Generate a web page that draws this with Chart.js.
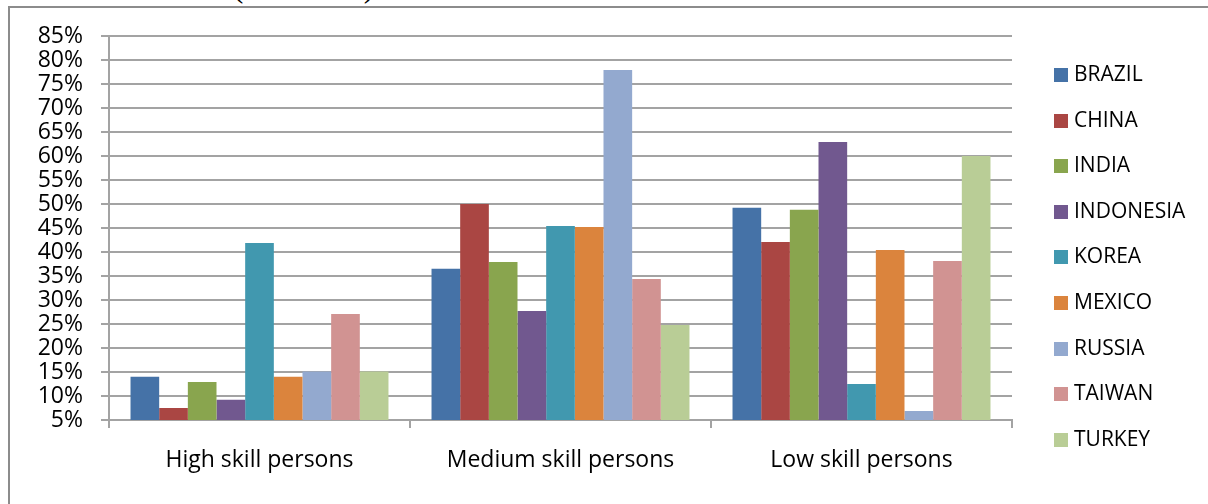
<!DOCTYPE html>
<html>
<head>
<meta charset="utf-8">
<script src="https://cdn.jsdelivr.net/npm/chart.js"></script>
<style>
  body { margin: 0; background: #fff; width: 1208px; height: 504px; overflow: hidden; position: relative; }
  #caption { position: absolute; left: 4px; top: -28px; font: 31px/30px "Liberation Serif", serif; color: #000; white-space: nowrap; }
  #frame { position: absolute; left: 8px; top: 6px; width: 1300px; height: 600px; border: 2px solid #8c8c8c; }
  #chart { position: absolute; left: 0; top: 0; }
  #legend { position: absolute; left: 1054px; top: 0; font: 21px "Open Sans", sans-serif; color: #000; }
  #legend div { position: absolute; white-space: nowrap; height: 24px; line-height: 24px; }
  #legend span { display: inline-block; width: 14px; height: 14px; margin-right: 6px; vertical-align: -1px; }
</style>
</head>
<body>
<div id="caption">selected countries (hard-total)</div>
<div id="frame"></div>
<canvas id="chart" width="1208" height="504"></canvas>
<div id="legend"></div>
<script>
// Skill groups and share of each country (percent)
const categories = ["High skill persons", "Medium skill persons", "Low skill persons"];
const countries = ["BRAZIL", "CHINA", "INDIA", "INDONESIA", "KOREA", "MEXICO", "RUSSIA", "TAIWAN", "TURKEY"];

const brazil = [14.0, 36.5, 49.2];
const china = [7.5, 50.0, 42.1];
const india = [12.9, 37.9, 48.8];
const indonesia = [9.2, 27.7, 62.9];
const korea = [41.9, 45.4, 12.5];
const mexico = [14.0, 45.2, 40.4];
const russia = [15.1, 77.9, 6.9];
const taiwan = [27.1, 34.4, 38.1];
const turkey = [15.1, 24.8, 60.0];

const values = [brazil, china, india, indonesia, korea, mexico, russia, taiwan, turkey];
const colors = ["#4572A7", "#AA4643", "#89A54E", "#71588F", "#4198AF", "#DB843D", "#93A9CF", "#D19392", "#B9CD96"];

const font = { family: "'Open Sans', sans-serif", size: 23 };
const gridColor = "#a3a3a3";

const ctx = document.getElementById("chart").getContext("2d");
new Chart(ctx, {
  type: "bar",
  data: {
    labels: categories,
    datasets: countries.map((name, i) => ({
      label: name,
      data: values[i],
      backgroundColor: colors[i],
      borderWidth: 0,
      barPercentage: 1,
      categoryPercentage: 0.857,
    })),
  },
  options: {
    responsive: false,
    devicePixelRatio: 1,
    animation: false,
    layout: { padding: { top: 36, right: 196, bottom: 0, left: 0 } },
    plugins: {
      legend: { display: false },
      tooltip: { enabled: false },
    },
    scales: {
      x: {
        grid: { drawOnChartArea: false, drawTicks: true, tickLength: 8, color: gridColor, lineWidth: 2, offset: true },
        border: { color: gridColor, width: 2 },
        ticks: { color: "#000", font: font, padding: 19, maxRotation: 0 },
        afterFit: (scale) => { scale.height = 84; },
      },
      y: {
        min: 5,
        max: 85,
        grid: { color: gridColor, lineWidth: 2, tickLength: 8 },
        border: { color: gridColor, width: 2 },
        ticks: {
          stepSize: 5,
          autoSkip: false,
          color: "#000",
          font: font,
          padding: 18,
          callback: (v) => v + "%",
        },
        afterFit: (scale) => { scale.width = 109; },
      },
    },
  },
});

// Legend on the right, one row per country
const legend = document.getElementById("legend");
countries.forEach((name, i) => {
  const row = document.createElement("div");
  row.style.top = (61 + i * 45.6) + "px";
  row.innerHTML = '<span style="background:' + colors[i] + '"></span>' + name;
  legend.appendChild(row);
});
</script>
</body>
</html>
